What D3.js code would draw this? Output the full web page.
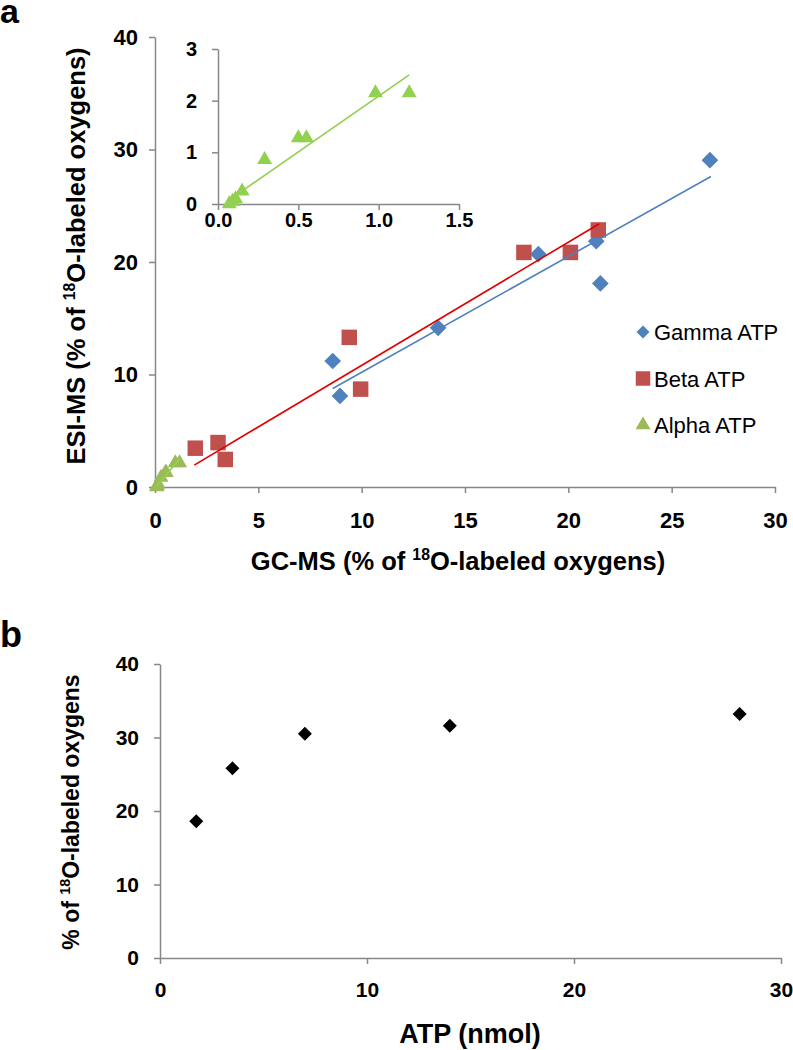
<!DOCTYPE html>
<html>
<head>
<meta charset="utf-8">
<script src="https://cdn.jsdelivr.net/npm/d3@7"></script>
<style>
  html, body { margin: 0; padding: 0; background: #fff; }
  svg { display: block; }
  .axis path, .axis line { stroke: #878787; stroke-width: 1.5px; }
  .axis text { font-family: "Liberation Sans", Arial, sans-serif; font-weight: bold; fill: #000; }
</style>
</head>
<body>
<svg id="chart" width="793" height="1050"></svg>
<script>
// ---------- Panel a: main scatter (GC-MS vs ESI-MS) ----------
const gammaX = [8.6, 8.95, 13.7, 18.55, 21.35, 21.55, 26.85];
const gammaY = [11.2, 8.1, 14.15, 20.7, 21.85, 18.1, 29.05];
const betaX  = [1.95, 3.05, 3.4, 9.4, 9.95, 17.85, 20.1, 21.45];
const betaY  = [3.45, 3.95, 2.45, 13.3, 8.7, 20.85, 20.85, 22.85];
const alphaX = [0.07, 0.09, 0.11, 0.15, 0.29, 0.50, 0.55, 0.98, 1.19];
const alphaY = [0.0, 0.05, 0.1, 0.25, 0.86, 1.28, 1.28, 2.15, 2.15];

// trendline end points [x, y]
const gammaFit = [[8.6, 8.75], [26.9, 27.6]];
const betaFit  = [[1.9, 1.95], [21.5, 23.4]];
const alphaFit = [[0.08, 0.1], [1.19, 2.5]];

const seriesNames = ["Gamma ATP", "Beta ATP", "Alpha ATP"];

const mainXTicks = [0, 5, 10, 15, 20, 25, 30];
const mainYTicks = [0, 10, 20, 30, 40];
const insetXTicks = [0.0, 0.5, 1.0, 1.5];
const insetYTicks = [0, 1, 2, 3];

// ---------- Panel b ----------
const atpX = [1.75, 3.5, 7.0, 14.0, 28.0];
const labeledY = [18.6, 25.8, 30.5, 31.6, 33.2];
const bXTicks = [0, 10, 20, 30];
const bYTicks = [0, 10, 20, 30, 40];

const FONT = '"Liberation Sans", Arial, sans-serif';
const COLORS = { gamma: "#4F81BD", beta: "#C0504D", alpha: "#9BBB59", alphaInset: "#92D050",
                 gammaLine: "#4F81BD", betaLine: "#E00000", alphaLine: "#92D050" };

const svg = d3.select("#chart");
svg.append("rect").attr("width", 793).attr("height", 1050).attr("fill", "#fff");

// Scales
const xMain = d3.scaleLinear().domain([0, 30]).range([155, 775]);
const yMain = d3.scaleLinear().domain([0, 40]).range([487, 37]);
const xIn = d3.scaleLinear().domain([0, 1.5]).range([218, 459]);
const yIn = d3.scaleLinear().domain([0, 3]).range([204, 49]);
const xB = d3.scaleLinear().domain([0, 30]).range([160, 781]);
const yB = d3.scaleLinear().domain([0, 40]).range([958, 664]);

const fmt0 = d3.format("d");
const fmt1 = d3.format(".1f");

function drawAxes(xs, ys, xt, yt, xfmt, yfmt, xpad, ypad, fs) {
  svg.append("g").attr("class", "axis").style("font-size", fs + "px")
    .attr("transform", `translate(0,${ys.range()[0]})`)
    .call(d3.axisBottom(xs).tickValues(xt).tickFormat(xfmt).tickSize(6).tickSizeOuter(0).tickPadding(xpad))
    .call(g => g.selectAll("text").style("font-size", fs + "px"));
  svg.append("g").attr("class", "axis")
    .attr("transform", `translate(${xs.range()[0]},0)`)
    .call(d3.axisLeft(ys).tickValues(yt).tickFormat(yfmt).tickSize(6).tickSizeOuter(0).tickPadding(ypad))
    .call(g => g.selectAll("text").style("font-size", fs + "px"));
}

drawAxes(xMain, yMain, mainXTicks, mainYTicks, fmt0, fmt0, 19, 11, 22);
drawAxes(xIn, yIn, insetXTicks, insetYTicks, fmt1, fmt0, 3, 15, 20);
drawAxes(xB, yB, bXTicks, bYTicks, fmt0, fmt0, 18, 15, 21);

const sym = (type, size) => d3.symbol().type(type).size(size)();

function drawPoints(xs, ys, X, Y, type, size, color, rot) {
  svg.append("g").selectAll("path").data(X.map((x, i) => [x, Y[i]])).join("path")
    .attr("d", sym(type, size))
    .attr("transform", d => `translate(${xs(d[0])},${ys(d[1])})` + (rot ? ` rotate(${rot})` : ""))
    .attr("fill", color);
}
function drawFit(xs, ys, pts, color) {
  svg.append("path")
    .attr("d", d3.line().x(d => xs(d[0])).y(d => ys(d[1]))(pts))
    .attr("fill", "none").attr("stroke", color).attr("stroke-width", 1.6);
}

// main plot series
drawPoints(xMain, yMain, gammaX, gammaY, d3.symbolSquare, 139, COLORS.gamma, 45);
drawPoints(xMain, yMain, betaX, betaY, d3.symbolSquare, 240, COLORS.beta, 0);
drawPoints(xMain, yMain, alphaX, alphaY, d3.symbolTriangle, 97, COLORS.alpha, 0);
drawFit(xMain, yMain, gammaFit, COLORS.gammaLine);
drawFit(xMain, yMain, betaFit, COLORS.betaLine);
drawFit(xMain, yMain, alphaFit, COLORS.alphaLine);

// inset
drawPoints(xIn, yIn, alphaX, alphaY, d3.symbolTriangle, 97, COLORS.alphaInset, 0);
drawFit(xIn, yIn, alphaFit, COLORS.alphaLine);

// legend
const legend = svg.append("g");
const legSyms = [[d3.symbolSquare, 85, COLORS.gamma, 45], [d3.symbolSquare, 210, COLORS.beta, 0], [d3.symbolTriangle, 97, COLORS.alpha, 0]];
seriesNames.forEach((name, i) => {
  const cy = 332 + i * 46.5;
  const s = legSyms[i];
  legend.append("path").attr("d", sym(s[0], s[1]))
    .attr("transform", `translate(643,${cy})` + (s[3] ? ` rotate(${s[3]})` : ""))
    .attr("fill", s[2]);
  legend.append("text").attr("x", 654).attr("y", cy + 8)
    .attr("font-family", FONT).attr("font-size", 22).attr("fill", "#000").text(name);
});

// panel b points
drawPoints(xB, yB, atpX, labeledY, d3.symbolSquare, 98, "#000", 45);

// titles with superscript
function titleText(x, y, size, rotate, pre, sup, post) {
  const t = svg.append("text")
    .attr("transform", `translate(${x},${y})` + (rotate ? " rotate(-90)" : ""))
    .attr("text-anchor", "middle").attr("font-family", FONT).attr("font-weight", "bold")
    .attr("font-size", size).attr("fill", "#000");
  t.append("tspan").text(pre);
  t.append("tspan").attr("font-size", size * 0.62).attr("dy", -size * 0.38).text(sup);
  t.append("tspan").attr("dy", size * 0.38).text(post);
  return t;
}
titleText(458, 570, 25.5, false, "GC-MS (% of ", "18", "O-labeled oxygens)");
titleText(85, 256, 25.5, true, "ESI-MS (% of ", "18", "O-labeled oxygens)");
titleText(79, 812, 23, true, "% of ", "18", "O-labeled oxygens");

svg.append("text").attr("x", 470).attr("y", 1043).attr("text-anchor", "middle")
  .attr("font-family", FONT).attr("font-weight", "bold").attr("font-size", 27).text("ATP (nmol)");

// panel letters
svg.append("text").attr("x", 0).attr("y", 23).attr("font-family", FONT).attr("font-weight", "bold")
  .attr("font-size", 34).text("a");
svg.append("text").attr("x", 0).attr("y", 647).attr("font-family", FONT).attr("font-weight", "bold")
  .attr("font-size", 36).text("b");
</script>
</body>
</html>
